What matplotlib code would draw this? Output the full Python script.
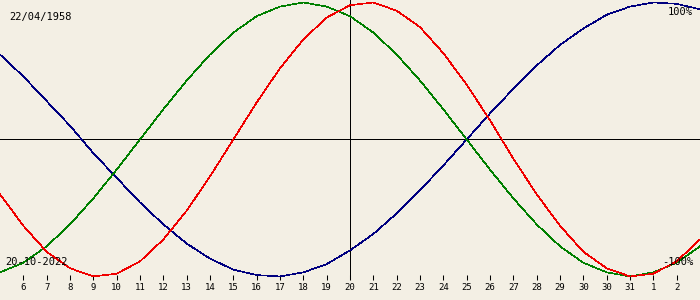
import numpy as np
import matplotlib
matplotlib.use('Agg')
import matplotlib.pyplot as plt

birth_date = '22/04/1958'
chart_date = '20-10-2022'

# labels of the ticks (days 1..29 of the window)
day_labels = ['6', '7', '8', '9', '10', '11', '12', '13', '14', '15', '16', '17',
              '18', '19', '20', '21', '22', '23', '24', '25', '26', '27', '28',
              '29', '30', '30', '31', '1', '2']

# percent values, one per day (31 points)
physical = [-40, -63, -82, -94, -100, -98, -89, -73, -52, -27, 0, 27, 52, 73, 89, 98,
            100, 94, 82, 63, 40, 14, -14, -40, -63, -82, -94, -100, -98, -89, -73]
emotional = [-97, -90, -78, -62, -43, -22, 0, 22, 43, 62, 78, 90, 97, 100, 97, 90,
             78, 62, 43, 22, 0, -22, -43, -62, -78, -90, -97, -100, -97, -90, -78]
intellectual = [62, 46, 28, 10, -10, -28, -46, -62, -76, -87, -95, -99, -100, -97, -91, -81,
                -69, -54, -37, -19, 0, 19, 37, 54, 69, 81, 91, 97, 100, 99, 95]

bg = '#f3efe4'
mono = 'DejaVu Sans Mono'

fig = plt.figure(figsize=(7, 3), dpi=100, facecolor=bg)
ax = fig.add_axes([0, 20/300, 1, 280/300])
ax.set_facecolor(bg)

x = np.arange(len(physical))
ax.axhline(0, color='black', lw=0.6, antialiased=False)
ax.axvline(15, color='black', lw=0.6, antialiased=False)
ax.plot(x, intellectual, color='#000080', lw=0.45, antialiased=False)
ax.plot(x, emotional, color='#008000', lw=0.45, antialiased=False)
ax.plot(x, physical, color='#f00000', lw=0.45, antialiased=False)

ax.set_xlim(0, 30)
ax.set_ylim(-102.6, 101.8)
ax.set_xticks(range(1, 30))
ax.set_xticklabels(day_labels, fontsize=6.5, family=mono)
ax.tick_params(axis='x', direction='in', length=3.5, width=0.75, pad=2.5)
ax.set_yticks([])
for s in ax.spines.values():
    s.set_visible(False)

fig.text(9/700, 1-17/300, birth_date, fontsize=7.5, family=mono, ha='left', va='center')
fig.text(5/700, 1-262/300, chart_date, fontsize=7.5, family=mono, ha='left', va='center')
fig.text(693/700, 1-12/300, '100%', fontsize=7.5, family=mono, ha='right', va='center')
fig.text(693/700, 1-262/300, '-100%', fontsize=7.5, family=mono, ha='right', va='center')

fig.savefig('out.png', dpi=100, facecolor=bg)
